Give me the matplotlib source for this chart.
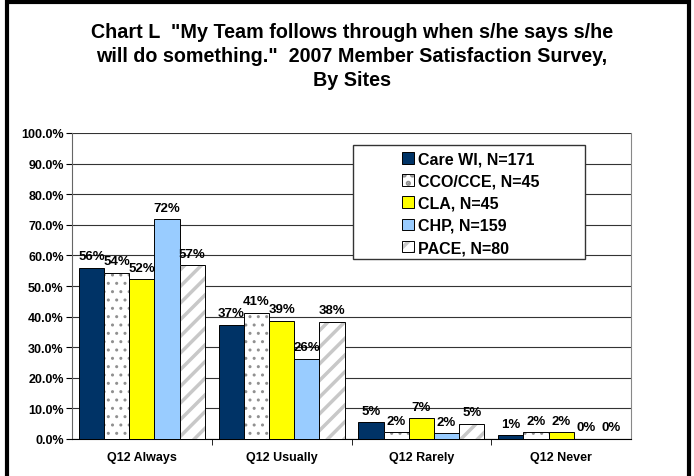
import numpy as np
import matplotlib
matplotlib.use("Agg")
import matplotlib.pyplot as plt
from matplotlib.patches import Rectangle, Patch
from matplotlib.legend_handler import HandlerTuple

plt.rcParams['font.family'] = ['Liberation Sans', 'DejaVu Sans']
plt.rcParams['font.weight'] = 'bold'

categories = ['Q12 Always', 'Q12 Usually', 'Q12 Rarely', 'Q12 Never']
sites = ['Care WI, N=171', 'CCO/CCE, N=45', 'CLA, N=45', 'CHP, N=159', 'PACE, N=80']
care_wi = [56.0, 37.4, 5.4, 1.2]
cco_cce = [54.3, 41.3, 2.2, 2.2]
cla = [52.2, 38.6, 6.8, 2.2]
chp = [71.8, 26.3, 1.9, 0.0]
pace = [56.8, 38.3, 5.0, 0.0]
labels_care = ['56%', '37%', '5%', '1%']
labels_cco = ['54%', '41%', '2%', '2%']
labels_cla = ['52%', '39%', '7%', '2%']
labels_chp = ['72%', '26%', '2%', '0%']
labels_pace = ['57%', '38%', '5%', '0%']

series = [care_wi, cco_cce, cla, chp, pace]
series_labels = [labels_care, labels_cco, labels_cla, labels_chp, labels_pace]
faces = ['#003366', 'white', '#ffff00', '#99ccff', 'white']
hatches = [None, '..', None, None, '//']
hatch_cols = [None, '#909090', None, None, '#c8c8c8']

fig = plt.figure(figsize=(6.94, 4.77), dpi=100)
ax = fig.add_axes([72/694, 1-440/477, (631-72)/694, (440-134)/477])

x = np.arange(len(categories))
w = 0.18
handles = []
for i in range(5):
    pos = x - 2*w + i*w
    if hatches[i]:
        plt.rcParams['hatch.linewidth'] = 2.5 if hatches[i] == '//' else 1.0
        ax.bar(pos, series[i], w, color='white', edgecolor=hatch_cols[i],
               hatch=hatches[i], linewidth=0, zorder=3)
        ax.bar(pos, series[i], w, color='none', edgecolor='black', linewidth=0.7, zorder=4)
        h = (Patch(facecolor='white', edgecolor=hatch_cols[i], hatch=hatches[i], linewidth=0),
             Patch(facecolor='none', edgecolor='black', linewidth=0.7))
    else:
        ax.bar(pos, series[i], w, color=faces[i], edgecolor='black', linewidth=0.7, zorder=3)
        h = (Patch(facecolor=faces[i], edgecolor='black', linewidth=0.7),)
    handles.append(h)
    for p, v, t in zip(pos, series[i], series_labels[i]):
        ax.annotate(t, (p, v), xytext=(0, 4), textcoords='offset points',
                    ha='center', va='bottom', fontsize=9.5, fontweight='bold', zorder=5)

ax.set_xlim(-0.5, 3.5)
ax.set_ylim(0, 100)
ax.set_yticks(np.arange(0, 101, 10))
ax.set_yticklabels(['%.1f%%' % v for v in np.arange(0, 101, 10)], fontsize=9, fontweight='bold')
ax.set_xticks(x)
ax.set_xticklabels(categories, fontsize=9, fontweight='bold')
ax.set_xticks([0.5, 1.5, 2.5], minor=True)
ax.tick_params(axis='x', which='major', length=0, pad=9)
ax.tick_params(axis='x', which='minor', length=4, direction='out')
ax.tick_params(axis='y', length=4, direction='out', pad=2)
ax.yaxis.grid(True, color='#333333', linewidth=0.8, zorder=0)
ax.set_axisbelow(True)
ax.spines['top'].set_visible(False)
ax.spines['right'].set_color('#888888')
ax.spines['left'].set_color('#666666')

title_lines = ['Chart L  "My Team follows through when s/he says s/he',
               'will do something."  2007 Member Satisfaction Survey,',
               'By Sites']
for k, line in enumerate(title_lines):
    fig.text(352/694, 1 - (32 + 24.5*k)/477, line, ha='center', va='center',
             fontsize=14.2, fontweight='bold')

# legend box
fig.patches.append(Rectangle((353/694, 1-260/477), (585-353)/694, (260-146)/477,
                             transform=fig.transFigure, facecolor='white',
                             edgecolor='#333333', linewidth=1.0, zorder=10))
leg = fig.legend(handles, sites, loc='upper left',
                 bbox_to_anchor=(388/694, 1-138/477), frameon=False,
                 handler_map={tuple: HandlerTuple(ndivide=1, pad=0)},
                 handlelength=0.75, handleheight=0.75, handletextpad=0.2,
                 labelspacing=0.45, prop={'weight': 'bold', 'size': 11.5})
leg.set_zorder(11)

# outer border
fig.patches.append(Rectangle((7/694, -0.05), (689-7)/694, 1.05 - 3/477,
                             transform=fig.transFigure, facecolor='none',
                             edgecolor='black', linewidth=3, zorder=20))

fig.savefig('out.png', dpi=100)
